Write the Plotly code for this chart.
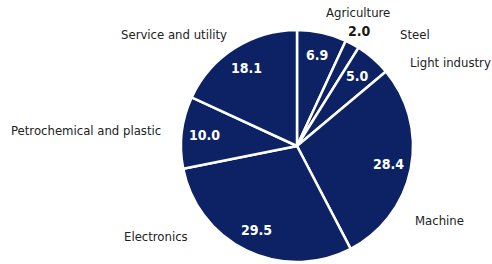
import math
import plotly.graph_objects as go

# ---- data ----
categories = ["Agriculture", "Steel", "Light industry", "Machine",
              "Electronics", "Petrochemical and plastic", "Service and utility"]
values = [6.9, 2.0, 5.0, 28.4, 29.5, 10.0, 18.1]
value_labels = ["6.9", "2.0", "5.0", "28.4", "29.5", "10.0", "18.1"]

# ---- style / layout ----
W, H = 492, 264
NAVY = "#0c2265"
FONT = "DejaVu Sans Condensed, Roboto, sans-serif"
cx, cy, R = 297, 146, 116          # pie centre and radius in pixels
outside_value = {"Steel"}           # value printed outside the slice

# outer category label anchors (pixel x, pixel y, xanchor)
label_layout = {
    "Agriculture": (358, 13, "center"),
    "Steel": (398, 34, "left"),
    "Light industry": (408, 62, "left"),
    "Machine": (413, 220, "left"),
    "Electronics": (190, 236, "right"),
    "Petrochemical and plastic": (163, 130, "right"),
    "Service and utility": (229, 34, "right"),
}


def px(x, y):
    return x / W, 1 - y / H


fig = go.Figure(go.Pie(
    labels=categories,
    values=values,
    sort=False,
    direction="clockwise",
    rotation=0,
    textinfo="none",
    hoverinfo="label+value",
    marker=dict(colors=[NAVY] * len(values), line=dict(color="white", width=2.5)),
    showlegend=False,
    domain=dict(x=[(cx - R) / W, (cx + R) / W], y=[(H - cy - R) / H, (H - cy + R) / H]),
))

annotations = []
total = sum(values)
cum = 0.0
for cat, v, vl in zip(categories, values, value_labels):
    mid = (cum + v / 2) / total * 2 * math.pi
    cum += v
    if cat in outside_value:
        r, color = 1.13 * R, "#1a1a1a"
    else:
        r, color = 0.8 * R, "white"
    x, y = px(cx + r * math.sin(mid), cy - r * math.cos(mid))
    annotations.append(dict(x=x, y=y, xref="paper", yref="paper", text=f"<b>{vl}</b>",
                            showarrow=False, font=dict(family=FONT, size=14, color=color),
                            xanchor="center", yanchor="middle"))
    lx, ly, anc = label_layout[cat]
    x, y = px(lx, ly)
    annotations.append(dict(x=x, y=y, xref="paper", yref="paper", text=cat,
                            showarrow=False, font=dict(family=FONT, size=13, color="#222222"),
                            xanchor=anc, yanchor="middle"))

fig.update_layout(
    width=W, height=H,
    margin=dict(l=0, r=0, t=0, b=0),
    paper_bgcolor="white", plot_bgcolor="white",
    annotations=annotations,
)

fig.write_html("out.html", config={"displayModeBar": False},
               post_script="document.body.style.margin='0';")
